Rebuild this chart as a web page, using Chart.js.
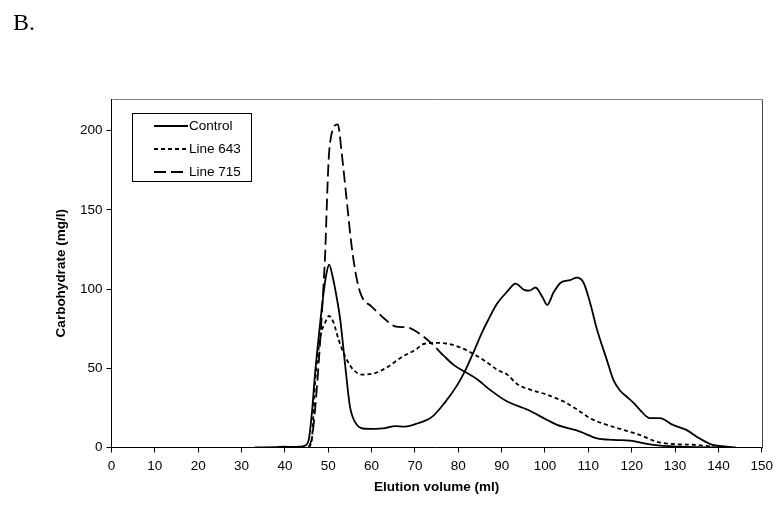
<!DOCTYPE html>
<html>
<head>
<meta charset="utf-8">
<script src="https://cdn.jsdelivr.net/npm/chart.js@4.4.1/dist/chart.umd.min.js"></script>
<style>
  html, body { margin: 0; padding: 0; background: #fff; }
  #wrap { width: 779px; height: 517px; }
</style>
</head>
<body>
<div id="wrap"><canvas id="myChart" width="779" height="517"></canvas></div>
<script>
// elution profiles
const controlX = [33, 38, 40, 42, 43.5, 44.5, 45.5, 46.3, 46.9, 47.8, 48.9, 49.6, 50.2, 51, 51.6, 52.8, 53.9, 55, 56.2, 58, 60.8, 63.1, 65.4, 67.7, 70.7, 73.8, 76.8, 79.9, 81.5, 83.8, 85.2, 86.8, 89, 91.3, 93.2, 95.2, 96.4, 97.8, 99.4, 100.5, 102, 103.6, 105.8, 107.4, 108.9, 110.4, 112, 114.3, 115.8, 117.3, 118.8, 120.5, 121.9, 124.2, 126.5, 129.5, 132.6, 135.6, 138.7, 141, 144];
const controlY = [0, 0.3, 0.5, 0.3, 0.5, 1, 5, 24, 45, 70, 97, 110, 115.5, 108, 100, 80, 52, 26, 16, 12, 11.7, 12.2, 13.5, 13.2, 15.3, 19, 28, 40, 48, 62, 71, 80, 91, 98.5, 103.5, 99.5, 99, 101, 95, 90, 98, 104, 105.7, 107.2, 104, 91.4, 74.5, 55, 42.5, 36, 32.2, 28, 23.8, 18.5, 18.5, 14.3, 11.1, 5.8, 1.6, 0.8, 0];

const line643X = [45.5, 46.2, 47, 48.2, 49.3, 50.2, 51.2, 52.4, 53.9, 55.8, 58.1, 60.8, 63.8, 66.9, 70, 72.2, 75.3, 77.6, 80.6, 84.5, 87, 89, 91.3, 93.6, 96.7, 100.5, 104.3, 107.4, 110.4, 114.3, 118.1, 121.9, 125.7, 129.5, 134.9, 139];
const line643Y = [0, 5, 42, 70, 79, 83, 79, 68, 57.5, 49, 46, 47, 51, 57, 61.5, 65.5, 66, 65.5, 63, 57.5, 53, 49, 46, 40, 36.4, 33.3, 29, 24, 18.5, 14.3, 11.1, 7.9, 3.7, 2.2, 1.6, 0.5];

const line715X = [45.5, 46.3, 47.4, 48.2, 48.9, 49.3, 49.7, 50.1, 50.7, 52.2, 53.1, 54.3, 55.4, 56.6, 57.7, 60, 63.1, 65.4, 68.4, 70.7, 73.7, 76.8, 79, 81.4, 84.5, 86.8, 91.3, 96, 100.5, 102.8, 108.1, 112, 115.8, 119.6, 125, 131, 140];
const line715Y = [0, 7, 38.5, 70, 102, 123, 155, 182, 197, 204, 186, 155, 127, 106, 95.5, 89, 81, 76.5, 75.7, 72.5, 66, 57.5, 52, 48, 42.8, 37.5, 29, 23.8, 17.4, 14.3, 10, 5.8, 4.8, 4.3, 1.6, 0.5, 0];

const seriesNames = ['Control', 'Line 643', 'Line 715'];
const xTicks = [0, 10, 20, 30, 40, 50, 60, 70, 80, 90, 100, 110, 120, 130, 140, 150];
const yTicks = [0, 50, 100, 150, 200];

const FONT = "'Liberation Sans', Arial, sans-serif";

function toPoints(xs, ys) {
  return xs.map((x, i) => ({ x: x, y: ys[i] }));
}

const dashes = [[], [4, 3], [12, 5]];

// frame on top/right, the "B." label and the boxed legend
const decor = {
  id: 'decor',
  afterDraw: function(chart) {
    const ctx = chart.ctx, a = chart.chartArea;
    ctx.save();
    ctx.lineWidth = 1;
    ctx.strokeStyle = '#808080';
    ctx.beginPath();
    ctx.moveTo(Math.round(a.left) + 0.5, Math.round(a.top) + 0.5);
    ctx.lineTo(Math.round(a.right) + 0.5, Math.round(a.top) + 0.5);
    ctx.stroke();
    ctx.strokeStyle = '#444';
    ctx.beginPath();
    ctx.moveTo(Math.round(a.right) + 0.5, Math.round(a.top) + 0.5);
    ctx.lineTo(Math.round(a.right) + 0.5, Math.round(a.bottom) + 0.5);
    ctx.stroke();

    ctx.fillStyle = '#000';
    ctx.font = "24px 'Liberation Serif', 'Times New Roman', serif";
    ctx.textBaseline = 'alphabetic';
    ctx.fillText('B.', 13, 30);

    // legend box
    const bx = 132.5, by = 113.5, bw = 119, bh = 68;
    ctx.fillStyle = '#fff';
    ctx.fillRect(bx, by, bw, bh);
    ctx.strokeStyle = '#000';
    ctx.strokeRect(bx, by, bw, bh);
    ctx.font = '13.5px ' + FONT;
    ctx.textBaseline = 'middle';
    const rows = [126, 149, 172];
    for (let i = 0; i < seriesNames.length; i++) {
      ctx.beginPath();
      ctx.setLineDash(dashes[i]);
      ctx.lineWidth = 1.8;
      ctx.moveTo(154, rows[i]);
      ctx.lineTo(188, rows[i]);
      ctx.stroke();
      ctx.setLineDash([]);
      ctx.fillStyle = '#000';
      ctx.fillText(seriesNames[i], 189, rows[i]);
    }
    ctx.restore();
  }
};

const ctx = document.getElementById('myChart').getContext('2d');
const myChart = new Chart(ctx, {
  type: 'line',
  data: {
    datasets: [{
      label: seriesNames[0],
      data: toPoints(controlX, controlY),
      borderColor: '#000',
      borderWidth: 1.8,
      borderDash: dashes[0]
    }, {
      label: seriesNames[1],
      data: toPoints(line643X, line643Y),
      borderColor: '#000',
      borderWidth: 1.8,
      borderDash: dashes[1]
    }, {
      label: seriesNames[2],
      data: toPoints(line715X, line715Y),
      borderColor: '#000',
      borderWidth: 1.8,
      borderDash: dashes[2],
      // the long dashes merge into a solid stroke on the tail
      segment: {
        borderDash: c => c.p0.parsed.x >= 74 ? [] : undefined
      }
    }]
  },
  options: {
    responsive: false,
    animation: false,
    parsing: false,
    elements: {
      point: { radius: 0 },
      line: { tension: 0.4, cubicInterpolationMode: 'monotone', fill: false }
    },
    layout: { padding: { top: 99, right: 13, bottom: 19.5, left: 0 } },
    plugins: {
      legend: { display: false },
      tooltip: { enabled: false }
    },
    scales: {
      x: {
        type: 'linear',
        min: 0,
        max: 150,
        afterFit: s => { s.height = 50; },
        afterBuildTicks: s => { s.ticks = xTicks.map(v => ({ value: v })); },
        grid: { drawOnChartArea: false, tickLength: 5, color: '#000' },
        border: { color: '#000', width: 1 },
        ticks: { color: '#000', padding: 6, maxRotation: 0, font: { family: FONT, size: 13.5 } },
        title: {
          display: true,
          text: 'Elution volume (ml)',
          color: '#000',
          padding: { top: 0, bottom: 2 },
          font: { family: FONT, size: 13.5, weight: 'bold' }
        }
      },
      y: {
        type: 'linear',
        min: 0,
        max: 220,
        afterFit: s => { s.width = 111.5; },
        afterBuildTicks: s => { s.ticks = yTicks.map(v => ({ value: v })); },
        grid: { drawOnChartArea: false, tickLength: 5, color: '#000' },
        border: { color: '#000', width: 1 },
        ticks: { color: '#000', padding: 4, font: { family: FONT, size: 13.5 } },
        title: {
          display: true,
          text: 'Carbohydrate (mg/l)',
          color: '#000',
          padding: { top: 53, bottom: 0 },
          font: { family: FONT, size: 13.5, weight: 'bold' }
        }
      }
    }
  },
  plugins: [decor]
});
</script>
</body>
</html>
